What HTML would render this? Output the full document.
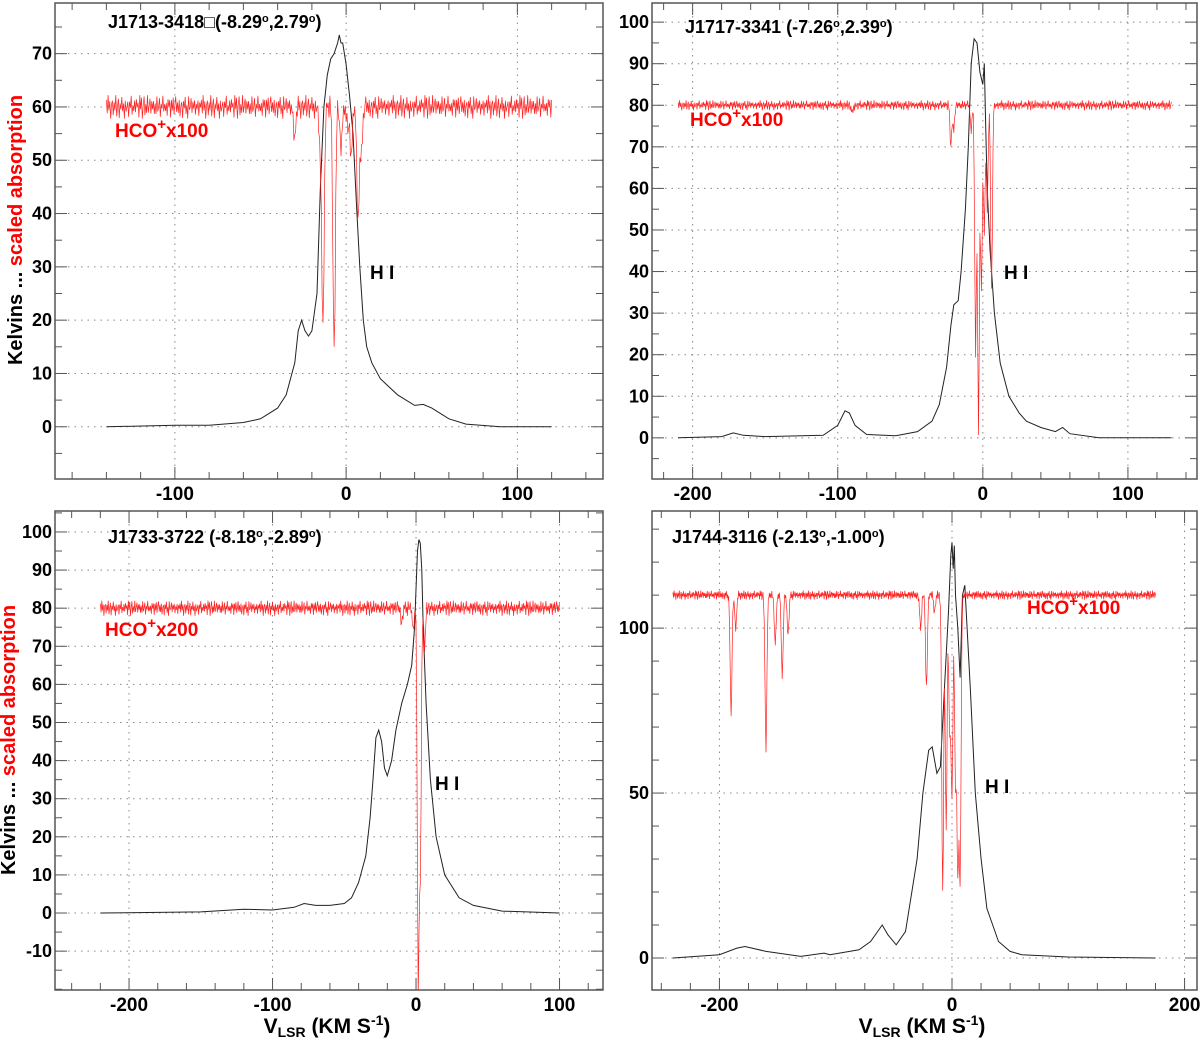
<!DOCTYPE html>
<html><head><meta charset="utf-8">
<style>
html,body{margin:0;padding:0;background:#fff;}
svg{display:block;font-family:"Liberation Sans",Arial,sans-serif;}
</style></head>
<body>
<svg id="chart" width="1200" height="1041" viewBox="0 0 1200 1041" xmlns="http://www.w3.org/2000/svg">
<g id="root"></g>
<text transform="translate(22,230) rotate(-90)" text-anchor="middle" font-size="20" font-weight="bold"><tspan fill="#000">Kelvins ... </tspan><tspan fill="#f00">scaled absorption</tspan></text>
<text transform="translate(15,740) rotate(-90)" text-anchor="middle" font-size="20" font-weight="bold"><tspan fill="#000">Kelvins ... </tspan><tspan fill="#f00">scaled absorption</tspan></text>
<text x="327" y="1033" text-anchor="middle" font-size="21" font-weight="bold">V<tspan font-size="14" dy="4">LSR</tspan><tspan dy="-4"> (KM S</tspan><tspan font-size="14" dy="-8">-1</tspan><tspan dy="8">)</tspan></text>
<text x="922" y="1033" text-anchor="middle" font-size="21" font-weight="bold">V<tspan font-size="14" dy="4">LSR</tspan><tspan dy="-4"> (KM S</tspan><tspan font-size="14" dy="-8">-1</tspan><tspan dy="8">)</tspan></text>
</svg>
<script>
// ---------- data ----------
const noise = [0.6,-0.9,1.0,-0.3,0.8,-1.0,0.2,0.9,-0.7,0.4,-0.5,1.0,-0.8,0.1,0.7,-0.95,0.5,-0.2,0.85,-0.6,0.3,-1.0,0.9,-0.4,0.0,0.75,-0.85,0.45,-0.15,0.95,-0.65,0.25,-0.35,0.55,-0.75,0.65,-0.05];

const p1HIv = [-140,-100,-80,-60,-50,-40,-35,-30,-28,-26,-24,-22,-20,-17,-15,-13,-11,-9,-7,-5,-4,-3,-2,0,2,4,6,8,10,12,15,20,30,40,45,50,60,70,90,120];
const p1HIt = [0,0.3,0.3,0.8,1.5,3.5,6,12,18,20,18,17,18,25,45,60,66,69,70,72,73.5,72,72,68,62,55,42,30,20,15,12,9,6,4,4.2,3.5,1.5,0.5,0,0];
const p1AbsC = [-30,-15,-13.5,-7,-3,1,3,7,9];
const p1AbsD = [6,8,40,47,8,4,9,22,8];

const p2HIv = [-210,-180,-172,-165,-150,-110,-100,-95,-92,-88,-80,-60,-45,-35,-30,-25,-22,-20,-17,-15,-12,-10,-8,-6,-4,-2,0,1,2,3,5,8,12,18,25,30,40,50,55,60,80,130];
const p2HIt = [0,0.3,1.2,0.6,0.3,0.6,3,6.5,6,3,0.8,0.5,1.5,4,8,17,27,32,33,40,55,70,90,96,95,88,85,90,75,60,45,30,18,10,6,4,2.5,1.5,2.5,1,0,0];
const p2AbsC = [-90,-22,-20,-8,-5,-3,-1,1,3,6];
const p2AbsD = [2,10,6,6,60,80,45,30,25,45];

const p3HIv = [-220,-150,-120,-100,-85,-78,-70,-60,-50,-45,-40,-35,-32,-30,-28,-26,-24,-22,-20,-17,-14,-10,-6,-3,-1,0,1,2,3,4,5,7,10,14,20,30,40,60,100];
const p3HIt = [0,0.3,1,0.8,1.5,2.5,2,2,2.5,4,8,15,25,35,46,48,45,38,36,40,48,55,60,65,75,85,95,98,97,90,75,55,35,20,10,4,2,0.5,0];
const p3AbsC = [-10,-2,1.5,3,6];
const p3AbsD = [4,6,100,70,10];

const p4HIv = [-240,-200,-185,-178,-160,-130,-110,-105,-80,-70,-60,-55,-48,-40,-30,-25,-20,-17,-13,-10,-6,-3,-1,0,1,2,3,5,7,9,11,13,16,20,25,30,40,50,60,100,175];
const p4HIt = [0,1,3,3.5,2,0.5,1.5,1,2.5,5,10,7,4,8,30,50,63,64,56,58,85,105,122,126,118,125,110,100,85,110,113,100,80,50,30,15,5,2,1,0.3,0];
const p4AbsC = [-190,-186,-160,-152,-146,-141,-27,-22,-15,-8,-5,-2,0,3,5,7];
const p4AbsD = [36,10,47,15,25,12,10,28,5,90,70,40,60,55,80,85];

const p1Yt=[0,10,20,30,40,50,60,70], p1Xt=[-100,0,100];
const p2Yt=[0,10,20,30,40,50,60,70,80,90,100], p2Xt=[-200,-100,0,100];
const p3Yt=[-10,0,10,20,30,40,50,60,70,80,90,100], p3Xt=[-200,-100,0,100];
const p4Yt=[0,50,100], p4Xt=[-200,0,200];

// ---------- drawing ----------
const NS="http://www.w3.org/2000/svg";
const root=document.getElementById('root');
function mk(tag,attrs,parent){const e=document.createElementNS(NS,tag);for(const k in attrs)e.setAttribute(k,attrs[k]);(parent||root).appendChild(e);return e;}

function panel(cfg){
  const g=mk('g',{});
  
  
  const xs=v=>cfg.x0+(v-cfg.vmin)/(cfg.vmax-cfg.vmin)*(cfg.x1-cfg.x0);
  const ys=t=>cfg.y1-(t-cfg.tmin)/(cfg.tmax-cfg.tmin)*(cfg.y1-cfg.y0);
  cfg.xt.forEach(v=>{const l=mk('line',{x1:xs(v),x2:xs(v),y1:cfg.y0,y2:cfg.y1,stroke:'#888','stroke-width':1,'stroke-dasharray':'1.5,5'},g);
    });
  cfg.yt.forEach(t=>{const l=mk('line',{x1:cfg.x0,x2:cfg.x1,y1:ys(t),y2:ys(t),stroke:'#888','stroke-width':1,'stroke-dasharray':'1.5,5'},g);
    });
  const xstep=cfg.xminor;
  for(let v=Math.ceil(cfg.vmin/xstep)*xstep;v<=cfg.vmax;v+=xstep){
    const maj=cfg.xt.includes(v);const L=maj?12:7;
    mk('line',{x1:xs(v),x2:xs(v),y1:cfg.y1,y2:cfg.y1-L,stroke:'#555','stroke-width':1},g);
    mk('line',{x1:xs(v),x2:xs(v),y1:cfg.y0,y2:cfg.y0+L,stroke:'#555','stroke-width':1},g);
  }
  const ystep=cfg.yminor;
  for(let t=Math.ceil(cfg.tmin/ystep)*ystep;t<=cfg.tmax;t+=ystep){
    const maj=cfg.yt.includes(t);const L=maj?12:7;
    mk('line',{x1:cfg.x0,x2:cfg.x0+L,y1:ys(t),y2:ys(t),stroke:'#555','stroke-width':1},g);
    mk('line',{x1:cfg.x1,x2:cfg.x1-L,y1:ys(t),y2:ys(t),stroke:'#555','stroke-width':1},g);
  }
  const fr=mk('rect',{x:cfg.x0,y:cfg.y0,width:cfg.x1-cfg.x0,height:cfg.y1-cfg.y0,fill:'none',stroke:'#555','stroke-width':1.5},g);
  
  cfg.xt.forEach(v=>{const t=mk('text',{x:xs(v),y:cfg.y1+21,'text-anchor':'middle','font-size':19,'font-weight':'bold'},g);t.textContent=v;
    });
  cfg.yt.forEach(v=>{const t=mk('text',{x:cfg.x0-3,y:ys(v)+6,'text-anchor':'end','font-size':18,'font-weight':'bold'},g);t.textContent=v;
    });
  const cp=mk('clipPath',{id:cfg.name+'-clip'},g);mk('rect',{x:cfg.x0,y:cfg.y0,width:cfg.x1-cfg.x0,height:cfg.y1-cfg.y0},cp);
  const pg=mk('g',{'clip-path':'url(#'+cfg.name+'-clip)'},g);
  let d='';cfg.hv.forEach((v,i)=>{d+=(i?'L':'M')+xs(v).toFixed(1)+','+ys(cfg.ht[i]).toFixed(1);});
  const hi=mk('path',{d:d,fill:'none',stroke:'#222','stroke-width':1},pg);
  
  let d2='',k=0;
  for(let v=cfg.rv0;v<=cfg.rv1;v+=cfg.rstep){
    let val=cfg.base+noise[k%noise.length]*cfg.namp*(k%3===1?0.6:1);k++;
    cfg.ac.forEach((c,i)=>{const w=cfg.aw;val-=cfg.ad[i]*Math.exp(-((v-c)*(v-c))/(2*w*w));});
    d2+=(d2?'L':'M')+xs(v).toFixed(1)+','+ys(val).toFixed(1);
  }
  const red=mk('path',{d:d2,fill:'none',stroke:'#f22','stroke-width':0.7},pg);
  
  const ti=mk('text',{x:cfg.title[0],y:cfg.title[1],'font-size':18,'font-weight':'bold'},g);ti.innerHTML=cfg.title[2];
  
  const h=mk('text',{x:cfg.hil[0],y:cfg.hil[1],'font-size':19,'font-weight':'bold'},g);h.textContent='H I';
  
  const hc=mk('text',{x:cfg.hco[0],y:cfg.hco[1],'font-size':19,'font-weight':'bold',fill:'#f00'},g);
  hc.innerHTML='HCO<tspan font-size="15" dy="-8">+</tspan><tspan dy="8">'+cfg.hco[2]+'</tspan>';
  
}

panel({name:'panel-j1713',x0:55,x1:603,y0:3,y1:479,vmin:-170,vmax:150,tmin:-9.8,tmax:79.5,xt:p1Xt,yt:p1Yt,xminor:20,yminor:5,
  hv:p1HIv,ht:p1HIt,rv0:-140,rv1:120,rstep:0.5,base:60,namp:2.2,ac:p1AbsC,ad:p1AbsD,aw:0.7,
  title:[108,28,'J1713-3418□(-8.29<tspan font-size="11" dy="-6">o</tspan><tspan dy="6">,2.79</tspan><tspan font-size="11" dy="-6">o</tspan><tspan dy="6">)</tspan>'],hil:[370,279],hco:[115,137,'x100']});
panel({name:'panel-j1717',x0:652,x1:1197,y0:3,y1:479,vmin:-228,vmax:147.6,tmin:-9.9,tmax:104.6,xt:p2Xt,yt:p2Yt,xminor:20,yminor:5,
  hv:p2HIv,ht:p2HIt,rv0:-210,rv1:130,rstep:0.5,base:80,namp:1.2,ac:p2AbsC,ad:p2AbsD,aw:0.6,
  title:[685,33,'J1717-3341  (-7.26<tspan font-size="11" dy="-6">o</tspan><tspan dy="6">,2.39</tspan><tspan font-size="11" dy="-6">o</tspan><tspan dy="6">)</tspan>'],hil:[1004,279],hco:[690,126,'x100']});
panel({name:'panel-j1733',x0:55,x1:603,y0:511,y1:990,vmin:-251.6,vmax:130.3,tmin:-20.2,tmax:105.5,xt:p3Xt,yt:p3Yt,xminor:20,yminor:5,
  hv:p3HIv,ht:p3HIt,rv0:-220,rv1:100,rstep:0.5,base:80,namp:2.0,ac:p3AbsC,ad:p3AbsD,aw:0.6,
  title:[108,543,'J1733-3722 (-8.18<tspan font-size="11" dy="-6">o</tspan><tspan dy="6">,-2.89</tspan><tspan font-size="11" dy="-6">o</tspan><tspan dy="6">)</tspan>'],hil:[435,790],hco:[105,636,'x200']});
panel({name:'panel-j1744',x0:652,x1:1197,y0:511,y1:990,vmin:-258,vmax:210.7,tmin:-9.7,tmax:135.5,xt:p4Xt,yt:p4Yt,xminor:25,yminor:10,
  hv:p4HIv,ht:p4HIt,rv0:-240,rv1:175,rstep:0.5,base:110,namp:1.4,ac:p4AbsC,ad:p4AbsD,aw:0.8,
  title:[672,543,'J1744-3116 (-2.13<tspan font-size="11" dy="-6">o</tspan><tspan dy="6">,-1.00</tspan><tspan font-size="11" dy="-6">o</tspan><tspan dy="6">)</tspan>'],hil:[985,793],hco:[1027,614,'x100']});
</script>
</body></html>
